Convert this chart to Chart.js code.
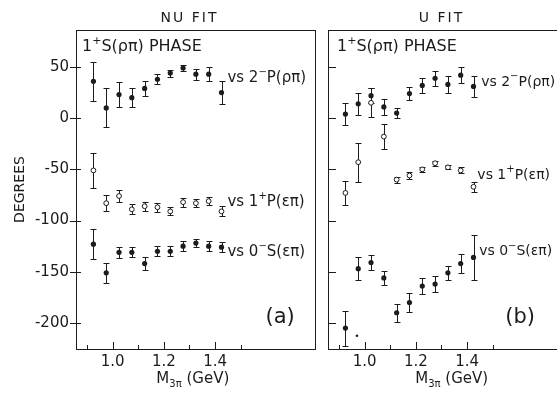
<!DOCTYPE html>
<html lang="en">
<head>
<meta charset="UTF-8">
<title>1+S(rho pi) phase - NU fit / U fit</title>
<style>
  html, body { margin: 0; padding: 0; background: #fff; overflow: hidden; }
  #wrap { position: relative; width: 557px; height: 395px; overflow: hidden; }
  canvas { position: absolute; top: 0; }
  #nuChart { left: 0; }
  #uChart { left: 320px; }
</style>
</head>
<body>

<div id="wrap">
  <canvas id="nuChart" width="320" height="395"></canvas>
  <canvas id="uChart" width="252" height="395"></canvas>
</div>

<script src="https://cdn.jsdelivr.net/npm/chart.js"></script>
<script>
// mass bins (GeV), same for every series
const mass = [0.925, 0.975, 1.025, 1.075, 1.125, 1.175, 1.225, 1.275, 1.325, 1.375, 1.425];
const xTicks = [0.9, 1.0, 1.1, 1.2, 1.3, 1.4, 1.5];
const xLabelled = [1.0, 1.2, 1.4];
const yTicks = [50, 0, -50, -100, -150, -200];

// (a) NU fit
const nuVs2P = [36, 10, 23, 20, 29, 38, 44, 49, 43, 43, 25];
const nuVs2PErr = [19, 19, 12, 9, 7, 5, 3.5, 3, 5.5, 6.5, 11];
const nuVs1P = [-51, -83, -76, -89, -86, -87, -91, -82, -83, -81, -91];
const nuVs1PErr = [17, 8, 6, 5, 4.5, 4.5, 4, 4.5, 4, 4, 5];
const nuVs0S = [-123, -151, -131, -131, -142, -130, -130, -125, -122, -125, -126];
const nuVs0SErr = [15, 9.5, 5.5, 5, 6.5, 5, 5, 5, 4, 5, 5];

// (b) U fit
const uVs2P = [4, 14, 22, 11, 5, 24, 32, 39, 33, 42, 31];
const uVs2PErr = [10.5, 11, 7, 7.5, 5, 6, 7, 7.5, 8.5, 7.5, 10];
const uVs1P = [-73, -43, 15, -18, -60, -56, -50, -44, -48, -51, -67];
const uVs1PErr = [12, 19, 14, 12, 3, 3.5, 2.5, 2.5, 2, 3, 5];
const uVs0S = [-205, -147, -141, -156, -190, -180, -164, -162, -151, -142, -136];
const uVs0SErr = [17, 11, 7, 6.5, 9, 9.5, 8, 8, 7, 9, 22];
const uStray = [{ x: 0.970, y: -212.5 }];

const ink = '#1c1c1c';
const family = '"DejaVu Sans", sans-serif';

function pts(vals) {
    return mass.map((m, i) => ({ x: m, y: vals[i] }));
}

// text with super/subscripts: parts = [[text, shift]], shift 1 = sup, -1 = sub
function drawRich(ctx, parts, x, y, size, align) {
    const small = Math.round(size * 0.68);
    const widths = parts.map(([t, s]) => {
        ctx.font = (s ? small : size) + 'px ' + family;
        return ctx.measureText(t).width;
    });
    const total = widths.reduce((a, b) => a + b, 0);
    let cx = align === 'center' ? x - total / 2 : x;
    ctx.textAlign = 'left';
    ctx.textBaseline = 'middle';
    parts.forEach(([t, s], i) => {
        ctx.font = (s ? small : size) + 'px ' + family;
        const dy = s === 1 ? -size * 0.38 : (s === -1 ? size * 0.38 : 0);
        ctx.fillText(t, cx, y + dy);
        cx += widths[i];
    });
}

const errorBars = {
    id: 'errorBars',
    beforeDatasetsDraw(chart) {
        const { ctx, scales: { x, y } } = chart;
        ctx.save();
        ctx.strokeStyle = ink;
        ctx.lineWidth = 1;
        chart.data.datasets.forEach(ds => {
            if (!ds.err) return;
            ds.data.forEach((p, i) => {
                const px = Math.round(x.getPixelForValue(p.x)) + 0.5;
                const top = Math.round(y.getPixelForValue(p.y + ds.err[i])) + 0.5;
                const bot = Math.round(y.getPixelForValue(p.y - ds.err[i])) + 0.5;
                ctx.beginPath();
                ctx.moveTo(px, top); ctx.lineTo(px, bot);
                ctx.moveTo(px - 3, top); ctx.lineTo(px + 3, top);
                ctx.moveTo(px - 3, bot); ctx.lineTo(px + 3, bot);
                ctx.stroke();
            });
        });
        ctx.restore();
    }
};

function makePanel(id, cfg) {
    const frame = {
        id: 'frame',
        afterDraw(chart) {
            const { ctx, chartArea: a, scales: { x, y } } = chart;
            ctx.save();
            ctx.strokeStyle = ink;
            ctx.fillStyle = ink;
            ctx.lineWidth = 1;
            ctx.strokeRect(Math.round(a.left) + 0.5, Math.round(a.top) + 0.5,
                Math.round(a.right - a.left), Math.round(a.bottom - a.top));
            ctx.beginPath();
            yTicks.forEach(v => {
                const py = Math.round(y.getPixelForValue(v)) + 0.5;
                ctx.moveTo(a.left - cfg.tickOut, py);
                ctx.lineTo(a.left + cfg.tickIn, py);
            });
            xTicks.forEach(v => {
                const px = Math.round(x.getPixelForValue(v)) + 0.5;
                const major = xLabelled.some(t => Math.abs(t - v) < 1e-6);
                ctx.moveTo(px, a.bottom);
                ctx.lineTo(px, a.bottom - (major ? 7 : 4));
            });
            ctx.stroke();

            // panel title
            ctx.letterSpacing = '2px';
            ctx.font = '14px ' + family;
            ctx.textAlign = 'center';
            ctx.textBaseline = 'middle';
            ctx.fillText(cfg.title, x.getPixelForValue(1.30), a.top - 12);
            ctx.letterSpacing = '0px';

            drawRich(ctx, [['1', 0], ['+', 1], ['S(ρπ) PHASE', 0]],
                a.left + cfg.phaseDx, y.getPixelForValue(69.5), 16, 'left');

            cfg.labels.forEach(l => {
                drawRich(ctx, l.parts, x.getPixelForValue(l.x), y.getPixelForValue(l.y), cfg.labelSize, 'left');
            });

            ctx.font = '21px ' + family;
            ctx.textAlign = 'center';
            ctx.fillText(cfg.tag, x.getPixelForValue(cfg.tagX), y.getPixelForValue(-195));

            drawRich(ctx, [['M', 0], ['3π', -1], [' (GeV)', 0]],
                x.getPixelForValue(cfg.xTitleAt), 379, 15, 'center');
            ctx.restore();
        }
    };

    const filled = { pointRadius: 2.6, pointBackgroundColor: ink, pointBorderWidth: 0, showLine: false };
    const open = { pointRadius: 2.4, pointBackgroundColor: '#fff', pointBorderColor: ink, pointBorderWidth: 1, showLine: false };

    const datasets = [
        Object.assign({ label: 'vs 2-P(ρπ)', data: pts(cfg.s2P), err: cfg.s2PErr }, filled),
        Object.assign({ label: 'vs 1+P(επ)', data: pts(cfg.s1P), err: cfg.s1PErr }, open),
        Object.assign({ label: 'vs 0-S(επ)', data: pts(cfg.s0S), err: cfg.s0SErr }, filled)
    ];
    if (cfg.stray) {
        datasets.push({ label: 'mark', data: cfg.stray, pointRadius: 1.3, pointBackgroundColor: ink, pointBorderWidth: 0, showLine: false });
    }

    return new Chart(document.getElementById(id), {
        type: 'scatter',
        data: { datasets },
        options: {
            responsive: false,
            animation: false,
            events: [],
            layout: { padding: { top: 30, right: 4, bottom: 0, left: cfg.padLeft } },
            plugins: { legend: { display: false }, tooltip: { enabled: false } },
            scales: {
                x: {
                    type: 'linear', min: 0.857, max: 1.79,
                    afterBuildTicks: s => { s.ticks = xTicks.map(v => ({ value: v })); },
                    afterFit: s => { s.height = 46; },
                    grid: { display: false, drawTicks: false },
                    border: { display: false },
                    ticks: {
                        autoSkip: false, maxRotation: 0, padding: 4, color: ink,
                        font: { family: family, size: 15 },
                        callback: v => xLabelled.some(t => Math.abs(t - v) < 1e-6) ? v.toFixed(1) : ''
                    }
                },
                y: {
                    display: cfg.showY,
                    min: -225.4, max: 86.1,
                    afterBuildTicks: s => { s.ticks = yTicks.map(v => ({ value: v })); },
                    afterFit: s => { s.width = cfg.showY ? 76 : 0; },
                    grid: { display: false, drawTicks: false },
                    border: { display: false },
                    ticks: { padding: 7, color: ink, font: { family: family, size: 15 }, callback: v => String(v) },
                    title: {
                        display: cfg.showY, text: 'DEGREES', color: ink,
                        font: { family: family, size: 14 },
                        padding: { top: 12, bottom: 0 }
                    }
                }
            }
        },
        plugins: [errorBars, frame]
    });
}

makePanel('nuChart', {
    title: 'NU FIT', tag: '(a)', tagX: 1.654, showY: true, padLeft: 0,
    tickOut: 6, tickIn: 5, phaseDx: 6, xTitleAt: 1.313, labelSize: 15,
    s2P: nuVs2P, s2PErr: nuVs2PErr, s1P: nuVs1P, s1PErr: nuVs1PErr, s0S: nuVs0S, s0SErr: nuVs0SErr,
    labels: [
        { x: 1.448, y: 39, parts: [['vs 2', 0], ['−', 1], ['P(ρπ)', 0]] },
        { x: 1.448, y: -81.5, parts: [['vs 1', 0], ['+', 1], ['P(επ)', 0]] },
        { x: 1.448, y: -130.4, parts: [['vs 0', 0], ['−', 1], ['S(επ)', 0]] }
    ]
});

makePanel('uChart', {
    title: 'U FIT', tag: '(b)', tagX: 1.607, showY: false, padLeft: 8,
    tickOut: 0, tickIn: 8, phaseDx: 9, xTitleAt: 1.34, labelSize: 14,
    s2P: uVs2P, s2PErr: uVs2PErr, s1P: uVs1P, s1PErr: uVs1PErr, s0S: uVs0S, s0SErr: uVs0SErr,
    stray: uStray,
    labels: [
        { x: 1.455, y: 35.4, parts: [['vs 2', 0], ['−', 1], ['P(ρπ)', 0]] },
        { x: 1.440, y: -55.5, parts: [['vs 1', 0], ['+', 1], ['P(επ)', 0]] },
        { x: 1.447, y: -130.4, parts: [['vs 0', 0], ['−', 1], ['S(επ)', 0]] }
    ]
});
</script>

</body>
</html>
